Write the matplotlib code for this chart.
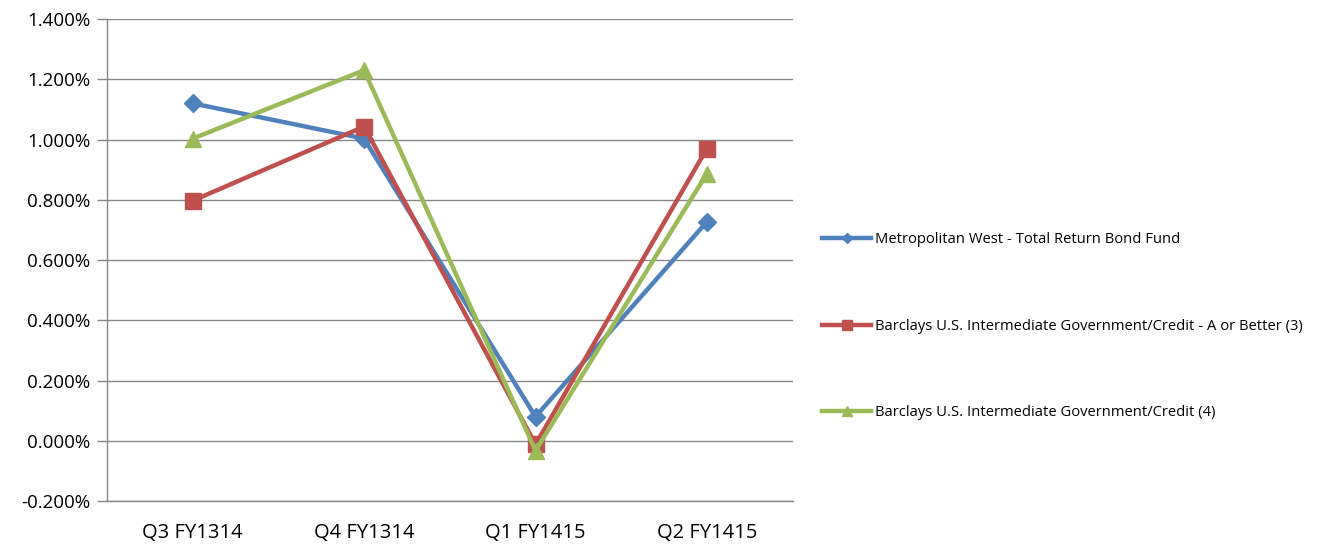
import numpy as np
import matplotlib.pyplot as plt
from matplotlib.ticker import FuncFormatter

plt.rcParams['font.family'] = ['Open Sans', 'DejaVu Sans']

quarters = ['Q3 FY1314', 'Q4 FY1314', 'Q1 FY1415', 'Q2 FY1415']
metwest = [1.120, 1.003, 0.080, 0.727]
barclays_a = [0.797, 1.043, -0.012, 0.970]
barclays = [1.003, 1.230, -0.033, 0.887]

names = ['Metropolitan West - Total Return Bond Fund',
         'Barclays U.S. Intermediate Government/Credit - A or Better (3)',
         'Barclays U.S. Intermediate Government/Credit (4)']
colors = ['#4F81BD', '#C0504D', '#9BBB59']
markers = ['D', 's', '^']
msizes = [9, 11, 11]

GRID = '#888888'

fig = plt.figure(figsize=(13.21, 5.44), dpi=100)
ax = fig.add_axes([0.081, 0.079, 0.519, 0.886])

x = np.arange(len(quarters))
handles = []
for vals, c, m, ms, n in zip([metwest, barclays_a, barclays], colors, markers, msizes, names):
    h, = ax.plot(x, vals, color=c, lw=3.2, marker=m, ms=ms, mec=c, mfc=c, label=n, zorder=3)
    handles.append(h)

ax.set_xlim(-0.5, 3.5)
ax.set_ylim(-0.2, 1.4)
ax.set_yticks(np.arange(-0.2, 1.41, 0.2))
ax.yaxis.set_major_formatter(FuncFormatter(lambda v, p: f'{v:.3f}%'))
ax.grid(axis='y', color=GRID, lw=1)
ax.set_axisbelow(True)

ax.set_xticks(x)
ax.set_xticklabels(quarters)
ax.tick_params(axis='x', length=0, labelsize=14.5, pad=16)
ax.tick_params(axis='y', length=7, color=GRID, width=1, labelsize=13.5, pad=5)

for s in ['top', 'right']:
    ax.spines[s].set_visible(False)
for s in ['left', 'bottom']:
    ax.spines[s].set_color(GRID)
    ax.spines[s].set_linewidth(1)

leg = fig.legend(handles=handles, loc='center left', bbox_to_anchor=(0.6125, 0.4),
                 frameon=False, fontsize=10.6, labelspacing=4.85, handlelength=3.3,
                 handletextpad=0.3, markerscale=0.6)

fig.savefig('out.png', dpi=100)
